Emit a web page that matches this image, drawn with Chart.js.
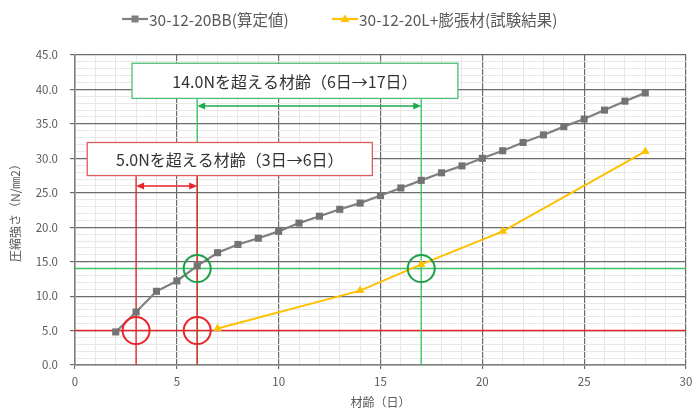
<!DOCTYPE html>
<html>
<head>
<meta charset="utf-8">
<script src="https://cdn.jsdelivr.net/npm/chart.js@4"></script>
<style>
    html, body { margin: 0; padding: 0; background: #fff; }
    #wrap { width: 694px; height: 410px; position: relative; }
</style>
</head>
<body>
<div id="wrap"><canvas id="strength-chart"></canvas></div>
<script>
// data
const calcDays = [2, 3, 4, 5, 6, 7, 8, 9, 10, 11, 12, 13, 14, 15, 16, 17, 18, 19, 20, 21, 22, 23, 24, 25, 26, 27, 28];
const calcValues = [4.8, 7.7, 10.7, 12.2, 14.4, 16.3, 17.5, 18.4, 19.4, 20.6, 21.6, 22.6, 23.5, 24.6, 25.7, 26.8, 27.9, 28.9, 30.0, 31.1, 32.3, 33.4, 34.6, 35.7, 37.0, 38.3, 39.5];
const testDays = [7, 14, 17, 21, 28];
const testValues = [5.3, 10.8, 14.6, 19.4, 31.0];
const seriesNames = ['30-12-20BB(算定値)', '30-12-20L+膨張材(試験結果)'];

// thresholds and the days where each series passes them
const thresholds = [5.0, 14.0];
const passDays = [[3, 6], [6, 17]];
const noteTexts = ['5.0Nを超える材齢（3日→6日）', '14.0Nを超える材齢（6日→17日）'];

const xTitle = '材齢（日）';
const yTitle = '圧縮強さ（N/㎜2）';

const FONT = "'Noto Sans CJK JP', 'Noto Sans', sans-serif";
const GRAY = '#7f7f7f';
const YELLOW = '#ffc000';
const RED = '#e8262a';
const GREEN = '#3cc46a';
const GREEN_DARK = '#1f9e4b';

const toPoints = (xs, ys) => xs.map((x, i) => ({ x, y: ys[i] }));

// draw the thresholds, circles, boxes and arrows on the plot
const notesPlugin = {
    id: 'notes',
    beforeDatasetsDraw(chart) {
        const { ctx, chartArea, scales } = chart;
        const xs = scales.x, ys = scales.y;
        const colors = [RED, GREEN];
        const topOf = [27.4, 38.7];
        ctx.save();
        // horizontal threshold lines
        thresholds.forEach((t, i) => {
            ctx.strokeStyle = colors[i];
            ctx.lineWidth = 1.6;
            ctx.beginPath();
            ctx.moveTo(chartArea.left, ys.getPixelForValue(t));
            ctx.lineTo(chartArea.right, ys.getPixelForValue(t));
            ctx.stroke();
        });
        // vertical lines, green first so red lies on top
        [1, 0].forEach(i => {
            ctx.strokeStyle = colors[i];
            ctx.lineWidth = 1.4;
            passDays[i].forEach(d => {
                ctx.beginPath();
                ctx.moveTo(xs.getPixelForValue(d), ys.getPixelForValue(0));
                ctx.lineTo(xs.getPixelForValue(d), ys.getPixelForValue(topOf[i]));
                ctx.stroke();
            });
        });
        ctx.restore();
    },
    afterDatasetsDraw(chart) {
        const { ctx, scales } = chart;
        const xs = scales.x, ys = scales.y;
        ctx.save();

        // circles where the thresholds are passed
        const circleColors = [RED, GREEN_DARK];
        thresholds.forEach((t, i) => {
            ctx.strokeStyle = circleColors[i];
            ctx.lineWidth = 2;
            passDays[i].forEach(d => {
                ctx.beginPath();
                ctx.arc(xs.getPixelForValue(d), ys.getPixelForValue(t), 13.5, 0, Math.PI * 2);
                ctx.stroke();
            });
        });

        // double arrows between the two days
        const arrowAt = [26.0, 37.6];
        const arrowColors = [RED, '#22a94f'];
        arrowAt.forEach((v, i) => {
            const y = ys.getPixelForValue(v);
            const x1 = xs.getPixelForValue(passDays[i][0]);
            const x2 = xs.getPixelForValue(passDays[i][1]);
            ctx.strokeStyle = arrowColors[i];
            ctx.fillStyle = arrowColors[i];
            ctx.lineWidth = 1.5;
            ctx.beginPath();
            ctx.moveTo(x1 + 6, y);
            ctx.lineTo(x2 - 6, y);
            ctx.stroke();
            [[x1, 1], [x2, -1]].forEach(([x, dir]) => {
                ctx.beginPath();
                ctx.moveTo(x, y);
                ctx.lineTo(x + dir * 8, y - 3.5);
                ctx.lineTo(x + dir * 8, y + 3.5);
                ctx.closePath();
                ctx.fill();
            });
        });

        // text boxes (data coords)
        const boxes = [
            { x1: 0.6, x2: 14.6, y1: 32.3, y2: 27.5, color: '#e05a5c' },
            { x1: 2.8, x2: 18.8, y1: 43.8, y2: 38.7, color: '#4fbf76' }
        ];
        boxes.forEach((b, i) => {
            const left = xs.getPixelForValue(b.x1);
            const right = xs.getPixelForValue(b.x2);
            const top = ys.getPixelForValue(b.y1);
            const bottom = ys.getPixelForValue(b.y2);
            ctx.fillStyle = '#fff';
            ctx.fillRect(left, top, right - left, bottom - top);
            ctx.strokeStyle = b.color;
            ctx.lineWidth = 1.3;
            ctx.strokeRect(left, top, right - left, bottom - top);
            ctx.fillStyle = '#333';
            ctx.font = `16px ${FONT}`;
            ctx.textAlign = 'center';
            ctx.textBaseline = 'middle';
            ctx.fillText(noteTexts[i], (left + right) / 2, (top + bottom) / 2 + 1);
        });
        ctx.restore();
    }
};

// legend with line + marker like the original
const legendPlugin = {
    id: 'lineLegend',
    afterDraw(chart) {
        const { ctx } = chart;
        const items = [
            { x: 122, color: GRAY, marker: 'rect' },
            { x: 332, color: YELLOW, marker: 'triangle' }
        ];
        const y = 19;
        ctx.save();
        items.forEach((it, i) => {
            ctx.strokeStyle = it.color;
            ctx.fillStyle = it.color;
            ctx.lineWidth = 2.2;
            ctx.beginPath();
            ctx.moveTo(it.x, y);
            ctx.lineTo(it.x + 26, y);
            ctx.stroke();
            const cx = it.x + 13;
            if (it.marker === 'rect') {
                ctx.fillRect(cx - 3.5, y - 3.5, 7, 7);
            } else {
                ctx.beginPath();
                ctx.moveTo(cx, y - 4.5);
                ctx.lineTo(cx + 4.5, y + 3);
                ctx.lineTo(cx - 4.5, y + 3);
                ctx.closePath();
                ctx.fill();
            }
            ctx.fillStyle = '#595959';
            ctx.font = `15.5px ${FONT}`;
            ctx.textAlign = 'left';
            ctx.textBaseline = 'middle';
            ctx.fillText(seriesNames[i], it.x + 27, y + 1);
        });
        ctx.restore();
    }
};

const majorGrid = '#6b6b6b';
const minorGrid = '#e8e8e8';

new Chart(document.getElementById('strength-chart').getContext('2d'), {
    type: 'line',
    data: {
        datasets: [{
            label: seriesNames[0],
            data: toPoints(calcDays, calcValues),
            borderColor: GRAY,
            backgroundColor: '#737373',
            borderWidth: 2.2,
            pointStyle: 'rect',
            pointRadius: 5,
            pointBorderWidth: 0,
            tension: 0
        }, {
            label: seriesNames[1],
            data: toPoints(testDays, testValues),
            borderColor: YELLOW,
            backgroundColor: YELLOW,
            borderWidth: 2,
            pointStyle: 'triangle',
            pointRadius: 5,
            pointBorderWidth: 0,
            tension: 0
        }]
    },
    options: {
        responsive: true,
        maintainAspectRatio: false,
        animation: false,
        layout: { padding: { top: 55, right: 0, left: 0, bottom: 0 } },
        plugins: {
            legend: { display: false },
            tooltip: { enabled: false }
        },
        scales: {
            x: {
                type: 'linear',
                min: 0,
                max: 30,
                afterFit: s => { s.height = 45; s.paddingRight = 8; },
                ticks: {
                    stepSize: 1,
                    autoSkip: false,
                    maxRotation: 0,
                    padding: 6,
                    color: '#595959',
                    font: { family: FONT, size: 11.5 },
                    callback: v => (v % 5 === 0 ? String(v) : '')
                },
                grid: {
                    color: c => (c.tick && c.tick.value % 5 === 0 ? majorGrid : minorGrid),
                    lineWidth: c => (c.tick && c.tick.value % 5 === 0 ? 1.2 : 1),
                    tickLength: 4,
                    tickColor: c => (c.tick && c.tick.value % 5 === 0 ? majorGrid : 'rgba(0,0,0,0)')
                },
                border: { color: '#7f7f7f', width: 1.5 },
                title: {
                    display: true,
                    text: xTitle,
                    color: '#595959',
                    font: { family: FONT, size: 12 },
                    padding: { top: 2, bottom: 0 }
                }
            },
            y: {
                min: 0,
                max: 45,
                afterFit: s => { s.width = 75; },
                ticks: {
                    stepSize: 1,
                    autoSkip: false,
                    padding: 12,
                    color: '#595959',
                    font: { family: FONT, size: 11.5 },
                    callback: v => (v % 5 === 0 ? v.toFixed(1) : '')
                },
                grid: {
                    color: c => (c.tick && c.tick.value % 5 === 0 ? majorGrid : minorGrid),
                    lineWidth: c => (c.tick && c.tick.value % 5 === 0 ? 1.2 : 1),
                    tickLength: 5,
                    tickColor: c => (c.tick && c.tick.value % 5 === 0 ? majorGrid : 'rgba(0,0,0,0)')
                },
                border: { color: '#7f7f7f', width: 1.5 },
                title: {
                    display: true,
                    text: yTitle,
                    color: '#595959',
                    font: { family: FONT, size: 12 },
                    padding: { top: 8, bottom: 0 }
                }
            }
        }
    },
    plugins: [notesPlugin, legendPlugin]
});
</script>
</body>
</html>
